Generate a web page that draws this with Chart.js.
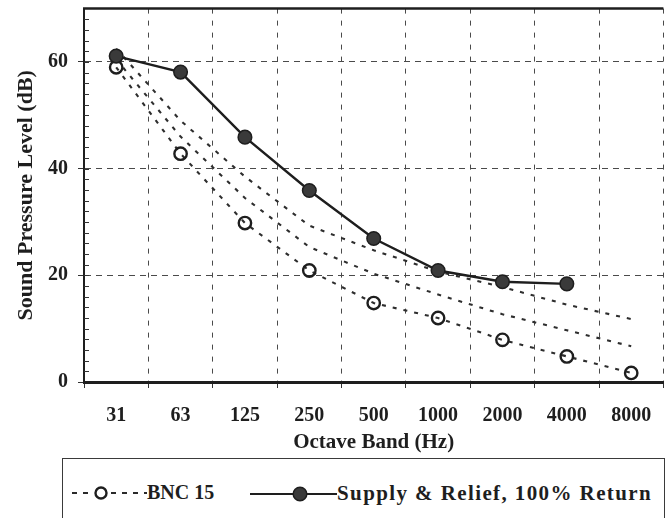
<!DOCTYPE html>
<html>
<head>
<meta charset="utf-8">
<script src="https://cdn.jsdelivr.net/npm/chart.js@4.4.1/dist/chart.umd.min.js"></script>
<style>
  html, body { margin: 0; padding: 0; background: #ffffff; overflow: hidden; width: 668px; height: 518px; }
  #wrap { position: absolute; left: 0; top: 0; width: 672px; height: 455px; }
  #legend { position: absolute; left: 62px; top: 458px; width: 603px; height: 90px; border: 1.5px solid #3a3a3a; box-sizing: border-box;
            font-family: "Liberation Serif", "Times New Roman", serif; font-weight: bold; font-size: 20px; color: #1e1e1e; }
  .item { position: absolute; top: 22px; display: flex; align-items: center; white-space: nowrap; }
  .item svg { display: block; }
  .wide { font-size: 21px; letter-spacing: 1.4px; }
</style>
</head>
<body>
<div id="wrap"><canvas id="c"></canvas></div>
<div id="legend">
  <div class="item" style="left:8px;">
    <svg width="76" height="20" viewBox="0 0 76 20">
      <line x1="1" y1="10" x2="22" y2="10" stroke="#2a2a2a" stroke-width="2.2" stroke-dasharray="5,6"/>
      <line x1="40" y1="10" x2="76" y2="10" stroke="#2a2a2a" stroke-width="2.2" stroke-dasharray="5,6"/>
      <circle cx="30" cy="10" r="5.5" fill="#ffffff" stroke="#1e1e1e" stroke-width="2.4"/>
    </svg>
    <span>BNC 15</span>
  </div>
  <div class="item" style="left:187px;">
    <svg width="87" height="20" viewBox="0 0 87 20">
      <line x1="0" y1="10" x2="87" y2="10" stroke="#1e1e1e" stroke-width="2.2"/>
      <circle cx="50" cy="10" r="6.8" fill="#3a3a3a" stroke="#1e1e1e" stroke-width="1.5"/>
    </svg>
    <span class="wide">Supply &amp; Relief, 100% Return</span>
  </div>
</div>
<script>
// ---- data ----
const categories = ['31', '63', '125', '250', '500', '1000', '2000', '4000', '8000'];
const supplyRelief = [61.1, 58.1, 45.9, 35.9, 26.9, 20.9, 18.8, 18.4, null];
const bnc15 = [59.0, 42.8, 29.8, 20.9, 14.8, 12.0, 7.9, 4.8, 1.7];
const bncCurveA = [60.5, 46.0, 34.5, 25.3, 20.3, 16.4, 12.7, 9.7, 6.7];
const bncCurveB = [62.5, 49.0, 38.5, 29.3, 24.7, 20.7, 17.8, 14.5, 11.8];
const yMajorTicks = [0, 20, 40, 60];
const yMin = 0, yMax = 70, yMinorStep = 2;

const FONT = '"Liberation Serif", "Times New Roman", serif';
const INK = '#1e1e1e';
const GRID = '#4a4a4a';

const frame = {
  id: 'frame',
  afterDraw(chart) {
    const { ctx, chartArea, scales } = chart;
    ctx.save();
    ctx.strokeStyle = INK;
    ctx.lineWidth = 2.5;
    ctx.beginPath();
    ctx.moveTo(chartArea.left - 1, chartArea.top);
    ctx.lineTo(chartArea.right, chartArea.top);
    ctx.stroke();
    ctx.lineWidth = 1;
    ctx.strokeStyle = '#333';
    for (let v = yMin + yMinorStep; v < yMax; v += yMinorStep) {
      const y = Math.round(scales.y.getPixelForValue(v)) + 0.5;
      ctx.beginPath();
      ctx.moveTo(chartArea.left, y);
      ctx.lineTo(chartArea.left + 5, y);
      ctx.stroke();
    }
    ctx.restore();
  }
};

const dashStyle = { borderColor: '#2e2e2e', borderWidth: 2.1, borderDash: [4, 7], pointRadius: 0, fill: false, tension: 0 };

new Chart(document.getElementById('c'), {
  type: 'line',
  data: {
    labels: categories,
    datasets: [
      { label: 'Supply & Relief, 100% Return', data: supplyRelief, borderColor: INK, borderWidth: 2.4,
        pointRadius: 6.8, pointBackgroundColor: '#3a3a3a', pointBorderColor: INK, pointBorderWidth: 1.5, tension: 0, fill: false },
      { label: 'BNC 15', data: bnc15, ...dashStyle, pointRadius: 6.2, pointBackgroundColor: 'rgba(255,255,255,0)',
        pointBorderColor: INK, pointBorderWidth: 2.4 },
      { label: 'BNC A', data: bncCurveA, ...dashStyle },
      { label: 'BNC B', data: bncCurveB, ...dashStyle }
    ]
  },
  options: {
    responsive: true,
    maintainAspectRatio: false,
    animation: false,
    layout: { padding: { top: 7, right: 0, bottom: 0, left: 0 } },
    plugins: { legend: { display: false }, tooltip: { enabled: false } },
    scales: {
      x: {
        type: 'category',
        offset: true,
        grid: { offset: true, color: GRID, lineWidth: 1, tickLength: 6, tickColor: '#333', drawTicks: true },
        border: { display: true, color: INK, width: 3, dash: [5, 7] },
        ticks: { color: INK, font: { family: FONT, size: 20, weight: 'bold' }, padding: 16, maxRotation: 0, autoSkip: false },
        title: { display: true, text: 'Octave Band (Hz)', color: INK, font: { family: FONT, size: 21, weight: 'bold' }, padding: { top: 0, bottom: 0 } },
        afterFit(s) { s.height = 73; s.paddingLeft = 0; s.paddingRight = 0; }
      },
      y: {
        min: yMin, max: yMax,
        ticks: {
          stepSize: yMinorStep, autoSkip: false, color: INK, padding: 10,
          font: { family: FONT, size: 20, weight: 'bold' },
          callback: (v) => yMajorTicks.includes(v) ? String(v) : ''
        },
        grid: {
          color: (c) => (yMajorTicks.includes(c.tick.value) && c.tick.value !== yMin) ? GRID : 'rgba(0,0,0,0)',
          tickColor: (c) => yMajorTicks.includes(c.tick.value) ? '#333' : 'rgba(0,0,0,0)',
          lineWidth: 1, tickLength: 6
        },
        border: { display: true, color: INK, width: 2, dash: [6, 5] },
        title: { display: true, text: 'Sound Pressure Level (dB)', color: INK, font: { family: FONT, size: 22, weight: 'bold' }, padding: { top: 13, bottom: 0 } },
        afterFit(s) { s.width = 84; s.paddingTop = 0; s.paddingBottom = 0; }
      }
    }
  },
  plugins: [frame]
});
</script>
</body>
</html>
